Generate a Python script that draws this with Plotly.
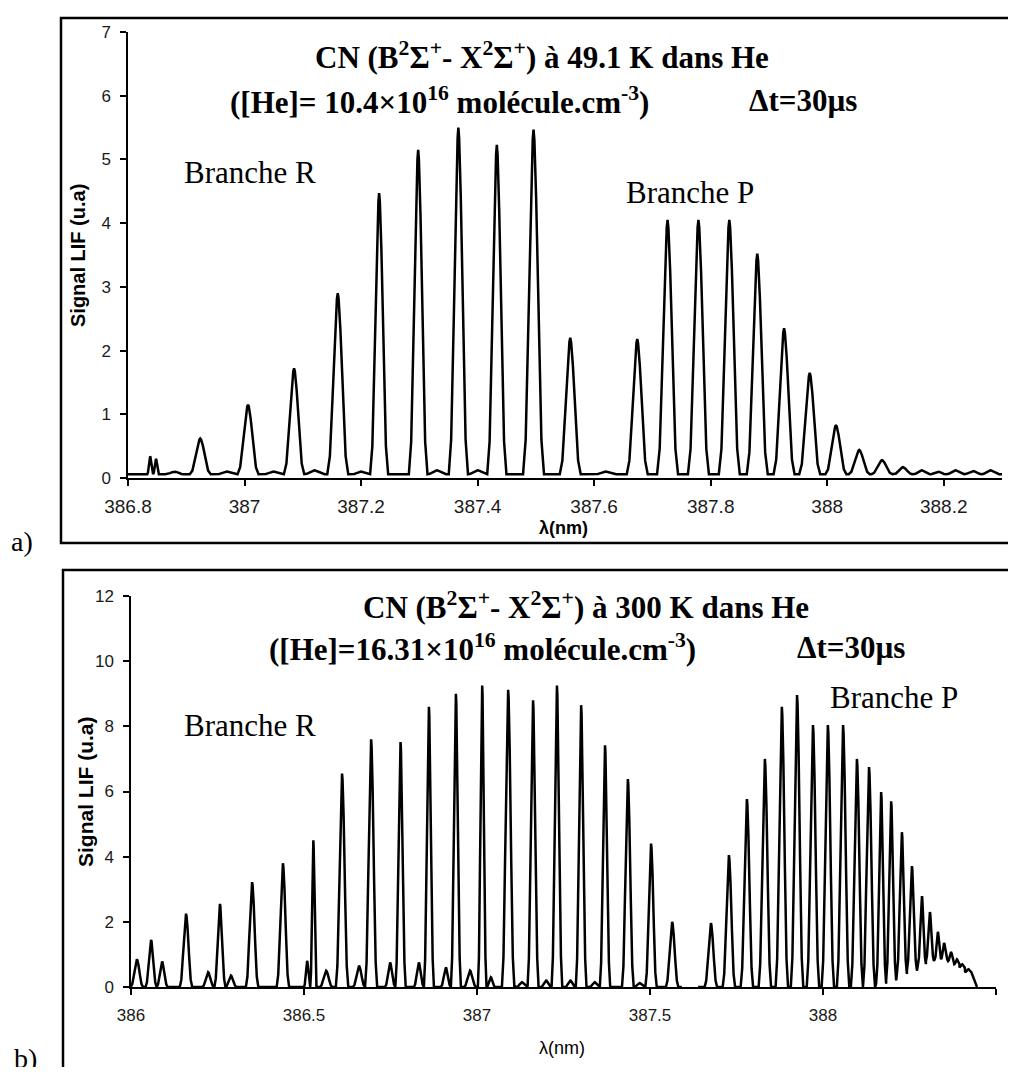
import plotly.graph_objects as go

# target picture size; the page body adds an 8 px margin, so the figure is drawn smaller
W, H = 1016, 1075
OFF = 8
FW, FH = W - OFF, H - 2 * OFF

# ---- panel a) : CN LIF spectrum at 49.1 K (peak positions in nm, heights in u.a)
a_peak_nm = [386.838, 386.848, 386.88, 386.924, 386.97, 387.006, 387.05, 387.085,
             387.12, 387.160, 387.20, 387.231, 387.298, 387.33, 387.367, 387.40,
             387.433, 387.496, 387.559, 387.62, 387.674, 387.726, 387.779, 387.832,
             387.880, 387.926, 387.970, 388.015, 388.055, 388.094, 388.130, 388.162,
             388.19, 388.22, 388.25, 388.28]
a_peak_val = [0.34, 0.30, 0.10, 0.62, 0.10, 1.15, 0.10, 1.72,
              0.12, 2.90, 0.10, 4.47, 5.15, 0.12, 5.50, 0.12,
              5.23, 5.47, 2.20, 0.10, 2.18, 4.05, 4.05, 4.05,
              3.52, 2.35, 1.65, 0.83, 0.44, 0.28, 0.17, 0.12,
              0.10, 0.12, 0.11, 0.12]
a_base = 0.06
a_span = [386.8, 388.3]

# ---- panel b) : CN LIF spectrum at 300 K
b_r_nm = [386.017, 386.058, 386.090, 386.159, 386.223, 386.257, 386.289, 386.350,
          386.439, 386.509, 386.527, 386.564, 386.610, 386.659, 386.694, 386.749,
          386.779, 386.832, 386.861, 386.910, 386.939, 386.980, 387.015, 387.040,
          387.090, 387.13, 387.162, 387.20, 387.231, 387.27, 387.301, 387.34,
          387.370, 387.436, 387.47, 387.503, 387.564]
b_r_val = [0.85, 1.45, 0.78, 2.25, 0.45, 2.55, 0.35, 3.22,
           3.80, 0.80, 4.50, 0.50, 6.55, 0.65, 7.60, 0.75,
           7.52, 0.75, 8.60, 0.60, 9.00, 0.50, 9.25, 0.30,
           9.12, 0.15, 8.80, 0.20, 9.25, 0.20, 8.65, 0.15,
           7.42, 6.38, 0.12, 4.40, 2.00]
b_r_span = [386.0, 387.592]

b_p_nm = [387.676, 387.728, 387.780, 387.832, 387.881, 387.925, 387.971, 388.014,
          388.058, 388.098, 388.133, 388.168, 388.197, 388.228, 388.257, 388.286,
          388.309, 388.332, 388.350, 388.370, 388.387, 388.402, 388.420]
b_p_val = [1.96, 4.05, 5.77, 7.00, 8.60, 8.96, 8.04, 8.04,
           8.04, 7.00, 6.75, 5.98, 5.70, 4.75, 3.71, 2.79,
           2.30, 1.69, 1.35, 1.07, 0.85, 0.70, 0.55]
b_p_floor = [0, 0, 0, 0, 0, 0, 0, 0,
             0, 0, 0, 0.1, 0.2, 0.4, 0.5, 0.7,
             0.8, 0.85, 0.85, 0.8, 0.7, 0.6, 0.45]
b_p_span = [387.639, 388.445]

# ---- axis ticks
a_xticks = [386.8, 387, 387.2, 387.4, 387.6, 387.8, 388, 388.2]
a_xtext = ['386.8', '387', '387.2', '387.4', '387.6', '387.8', '388', '388.2']
a_yticks = [0, 1, 2, 3, 4, 5, 6, 7]
b_xticks = [386, 386.5, 387, 387.5, 388, 388.5]
b_xtext = ['386', '386.5', '387', '387.5', '388', '388.5']
b_yticks = [0, 2, 4, 6, 8, 10, 12]

# line shape of one rotational line (relative offset, fraction of height)
PROFILE = [(-1.0, 0.0), (-0.75, 0.1), (-0.5, 0.42), (-0.25, 0.8), (-0.08, 0.97), (0.0, 1.0),
           (0.08, 0.97), (0.25, 0.8), (0.5, 0.42), (0.75, 0.1), (1.0, 0.0)]


def spectrum(nm, val, floor, span, end_level, hw_max):
    xs, ys = [span[0]], [floor[0]]
    for i, (c, h, f) in enumerate(zip(nm, val, floor)):
        gaps = []
        if i > 0:
            gaps.append(c - nm[i - 1])
        if i < len(nm) - 1:
            gaps.append(nm[i + 1] - c)
        hw = min([hw_max] + [0.5 * g for g in gaps])
        for dx, k in PROFILE:
            xs.append(c + dx * hw)
            ys.append(f + k * (h - f))
    xs.append(span[1])
    ys.append(end_level)
    return xs, ys


def px_x(px):
    return (px - OFF) / FW


def px_y(py):
    return 1 - (py - OFF) / FH


SERIF = "Liberation Serif, Times New Roman, serif"
SANS = "Liberation Sans, Arial, sans-serif"
LINE = dict(color="black", width=2.5)

fig = go.Figure()

ax, ay = spectrum(a_peak_nm, a_peak_val, [a_base] * len(a_peak_nm), a_span, a_base, 0.018)
fig.add_trace(go.Scatter(x=ax, y=ay, mode="lines", line=LINE, xaxis="x", yaxis="y"))

bx, by = spectrum(b_r_nm, b_r_val, [0] * len(b_r_nm), b_r_span, 0, 0.018)
fig.add_trace(go.Scatter(x=bx, y=by, mode="lines", line=LINE, xaxis="x2", yaxis="y2"))
bx, by = spectrum(b_p_nm, b_p_val, b_p_floor, b_p_span, 0, 0.018)
fig.add_trace(go.Scatter(x=bx, y=by, mode="lines", line=LINE, xaxis="x2", yaxis="y2"))

axis_common = dict(showline=True, linecolor="black", linewidth=1.5, ticks="outside",
                   ticklen=6, tickwidth=1.5, tickcolor="black", showgrid=False,
                   zeroline=False, automargin=False)


def tfont(size):
    return dict(family=SANS, size=size, color="#1a1a1a")


fig.update_layout(
    width=FW, height=FH, margin=dict(l=0, r=0, t=0, b=0, pad=0),
    paper_bgcolor="white", plot_bgcolor="white", showlegend=False,
    xaxis=dict(axis_common, domain=[px_x(128), px_x(1002)], anchor="y", range=a_span,
               tickvals=a_xticks, ticktext=a_xtext, ticklabelstandoff=4, tickfont=tfont(19)),
    yaxis=dict(axis_common, domain=[px_y(478), px_y(32)], anchor="x", range=[0, 7],
               tickvals=a_yticks, ticklabelstandoff=6, tickfont=tfont(17)),
    xaxis2=dict(axis_common, domain=[px_x(131), px_x(996)], anchor="y2", range=[386, 388.5],
                tickvals=b_xticks, ticktext=b_xtext, ticklabelstandoff=6, tickfont=tfont(17)),
    yaxis2=dict(axis_common, domain=[px_y(987), px_y(596)], anchor="x2", range=[0, 12],
                tickvals=b_yticks, ticklabelstandoff=6, tickfont=tfont(17)),
)


def note(text, px, py, size, family=SERIF, xanchor="center", angle=0):
    return dict(text=text, xref="paper", yref="paper", x=px_x(px), y=px_y(py),
                xanchor=xanchor, yanchor="middle", showarrow=False, textangle=angle,
                font=dict(family=family, size=size, color="black"))


notes = [
    # panel a
    note("<b>CN (B<sup>2</sup>Σ<sup>+</sup>- X<sup>2</sup>Σ<sup>+</sup>) à 49.1 K dans He</b>", 542, 55, 31),
    note("<b>([He]= 10.4×10<sup>16</sup> molécule.cm<sup>-3</sup>)</b>", 228, 100, 31, xanchor="left"),
    note("<b>Δt=30µs</b>", 747, 100, 31, xanchor="left"),
    note("Branche R", 250, 173, 31),
    note("Branche P", 690, 192, 31),
    note("<b>Signal LIF (u.a)</b>", 78, 256, 20, family=SANS, angle=-90),
    note("<b>λ(nm)</b>", 563, 528, 18, family=SANS),
    note("a)", 22, 541, 28),
    # panel b
    note("<b>CN (B<sup>2</sup>Σ<sup>+</sup>- X<sup>2</sup>Σ<sup>+</sup>) à 300 K dans He</b>", 586, 605, 31),
    note("<b>([He]=16.31×10<sup>16</sup> molécule.cm<sup>-3</sup>)</b>", 267, 647, 31, xanchor="left"),
    note("<b>Δt=30µs</b>", 795, 647, 31, xanchor="left"),
    note("Branche R", 250, 725, 31),
    note("Branche P", 894, 697, 31),
    note("<b>Signal LIF (u.a)</b>", 85, 792, 21, family=SANS, angle=-90),
    note("λ(nm)", 562, 1048, 18, family=SANS),
    note("b)", 25, 1058, 28),
]
fig.update_layout(annotations=notes)

# frames around the two panels (their right side runs past the picture edge)
fig.add_shape(type="rect", xref="paper", yref="paper", x0=px_x(61), x1=1.05,
              y0=px_y(543), y1=px_y(18), line=dict(color="black", width=2.5))
fig.add_shape(type="rect", xref="paper", yref="paper", x0=px_x(63), x1=1.05,
              y0=-0.03, y1=px_y(570), line=dict(color="black", width=2.5))

fig.write_html("out.html")
